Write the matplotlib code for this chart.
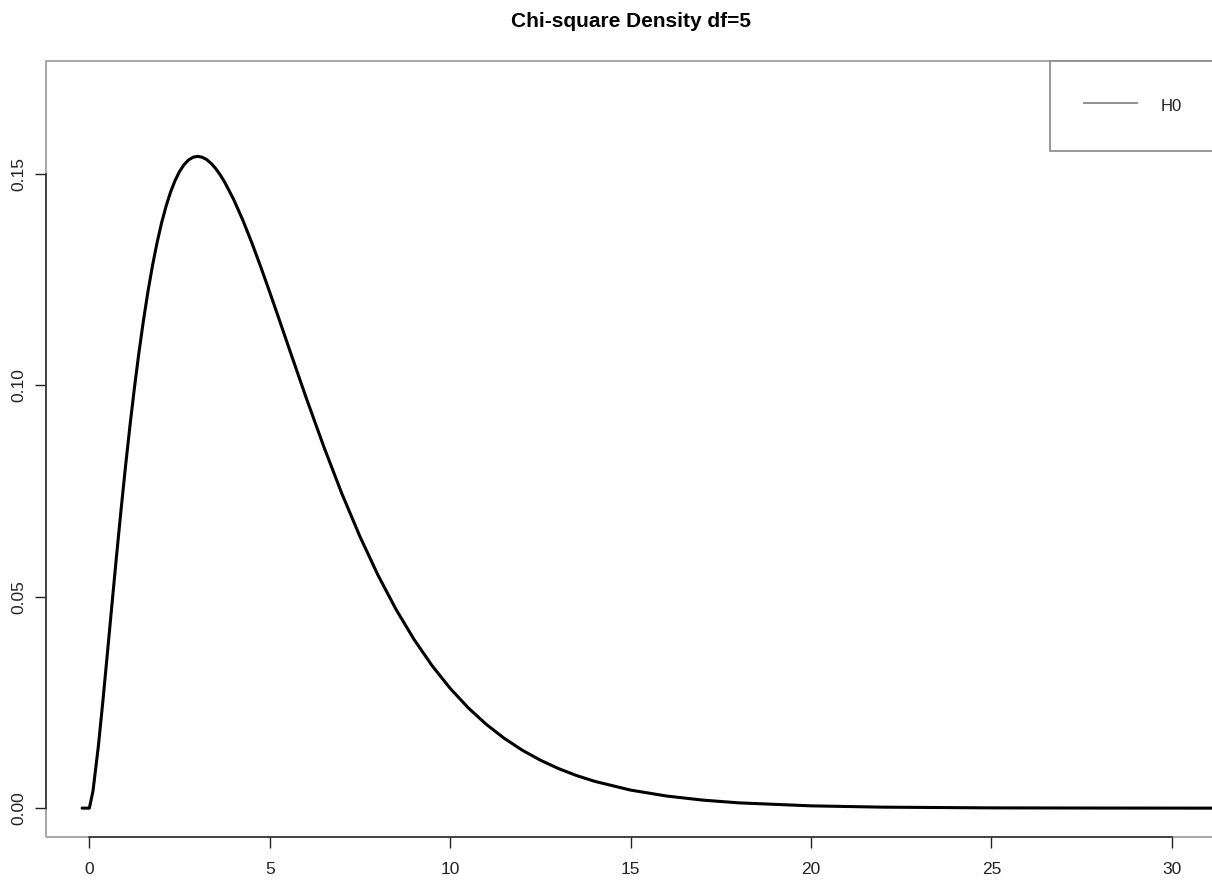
import matplotlib
matplotlib.use("Agg")
import matplotlib.pyplot as plt
from matplotlib.lines import Line2D
from matplotlib.patches import Rectangle

plt.rcParams['font.family'] = ['Liberation Sans', 'DejaVu Sans']

# values
x_vals = [-0.2, 0.0, 0.1, 0.25, 0.375, 0.5, 0.625, 0.75, 0.875, 1.0, 1.125,
          1.25, 1.375, 1.5, 1.625, 1.75, 1.875, 2.0, 2.125, 2.25, 2.375, 2.5,
          2.625, 2.75, 2.875, 3.0, 3.125, 3.25, 3.375, 3.5, 3.625, 3.75, 4.0,
          4.25, 4.5, 4.75, 5.0, 5.25, 5.5, 6.0, 6.5, 7.0, 7.5,
          8.0, 8.5, 9.0, 9.5, 10.0, 10.5, 11.0, 11.5, 12.0, 12.5, 13.0, 13.5,
          14.0, 15.0, 16.0, 17.0, 18.0, 20.0, 22.0, 25.0, 28.0, 31.0, 34.0]
density = [0.0, 0.0, 0.0040, 0.01467, 0.02532, 0.03662, 0.04807, 0.05936,
           0.07028, 0.08066, 0.09041, 0.09948, 0.10781, 0.11540, 0.12224,
           0.12833, 0.13369, 0.13837, 0.14236, 0.14571, 0.14844, 0.15060,
           0.15222, 0.15333, 0.15397, 0.15418, 0.15398, 0.15342, 0.15252,
           0.15131, 0.14983, 0.14809, 0.14398, 0.13916, 0.13380, 0.12805,
           0.12204, 0.11588, 0.10965, 0.09730, 0.08545, 0.07437, 0.06424,
           0.05511, 0.04701, 0.03989, 0.03369, 0.02833, 0.02374, 0.01983,
           0.01651, 0.01370, 0.01135, 0.00937, 0.00772, 0.00635, 0.00427,
           0.00286, 0.00190, 0.00125, 0.00054, 0.00023, 0.00006, 0.00002,
           0.0, 0.0]
x_ticks = [0, 5, 10, 15, 20, 25, 30]
y_ticks = [0.00, 0.05, 0.10, 0.15]
y_ticklabels = ["0.00", "0.05", "0.10", "0.15"]

fig = plt.figure(figsize=(12.12, 8.8), dpi=100)
ax = fig.add_axes([0.038, 0.049, 0.9645, 0.882])

ax.plot(x_vals, density, color='black', lw=2.2, solid_joinstyle='round',
        solid_capstyle='round')

ax.set_xlim(-1.2, 31.2)
ax.set_ylim(-0.0068, 0.1768)
ax.set_xticks(x_ticks)
ax.set_yticks(y_ticks)
ax.set_yticklabels(y_ticklabels, rotation=90, va='center')
ax.tick_params(axis='both', labelsize=12.5, colors='#222222', length=8, width=1)
ax.tick_params(axis='x', pad=10)
ax.tick_params(axis='y', pad=6)

# R-style: dark axis lines only between first and last tick, grey box around
for side in ['top', 'right']:
    ax.spines[side].set_visible(False)
ax.spines['bottom'].set_bounds(x_ticks[0], x_ticks[-1])
ax.spines['left'].set_bounds(y_ticks[0], y_ticks[-1])
for side in ['bottom', 'left']:
    ax.spines[side].set_color('#333333')
    ax.spines[side].set_linewidth(1.2)
ax.add_patch(Rectangle((0, 0), 1, 1, transform=ax.transAxes, fill=False,
                       edgecolor='#999999', lw=1.2, clip_on=False, zorder=0))

ax.set_title("Chi-square Density df=5", fontsize=15, fontweight='bold', pad=24)

h = Line2D([], [], color='#888888', lw=1.3)
leg = ax.legend([h], ["H0"], loc='upper right', bbox_to_anchor=(1, 1),
                borderaxespad=0, fancybox=False, edgecolor='#888888',
                fontsize=12, handlelength=3.2, handletextpad=1.4,
                borderpad=2.0, handleheight=1.8, framealpha=1)
leg.get_frame().set_linewidth(1.2)
for t in leg.get_texts():
    t.set_color('#222222')

fig.savefig("out.png", dpi=100)
